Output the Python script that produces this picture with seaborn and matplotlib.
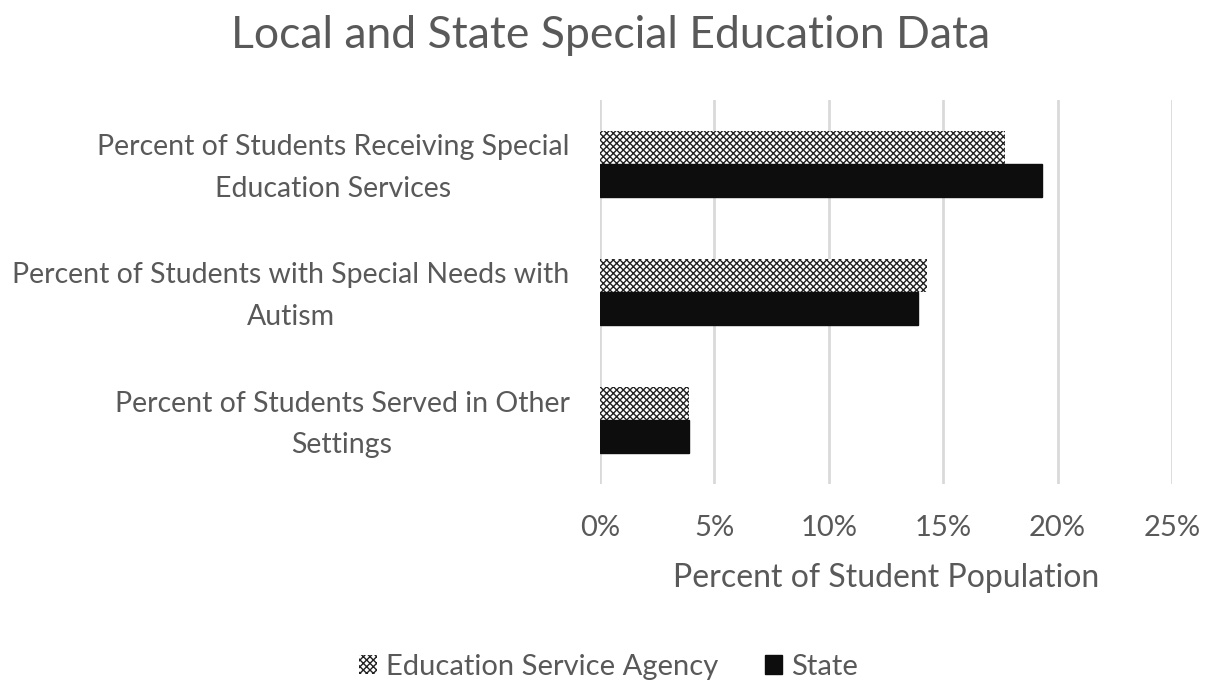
import pandas as pd
import matplotlib.pyplot as plt
import matplotlib.transforms as mtrans
import seaborn as sns
from matplotlib.patches import Patch
from matplotlib.ticker import FuncFormatter

# datos
categorias = [
    "Percent of Students Receiving Special\nEducation Services",
    "Percent of Students with Special Needs with\nAutism",
    "Percent of Students Served in Other\nSettings",
]
series = ["Education Service Agency", "State"]
esa = [17.7, 14.3, 3.9]
state = [19.3, 13.9, 3.9]

df = pd.DataFrame({
    "categoria": categorias * 2,
    "grupo": [series[0]] * 3 + [series[1]] * 3,
    "valor": esa + state,
})

sns.set_theme(style="white")
plt.rcParams["font.family"] = ["Lato", "DejaVu Sans"]
plt.rcParams["hatch.linewidth"] = 1.0
gris = "#595959"

fig = plt.figure(figsize=(12.05, 6.85), dpi=100)
ax = fig.add_axes([600 / 1205, 1 - 484 / 685, (1172 - 600) / 1205, (484 - 100) / 685])

sns.barplot(data=df, y="categoria", x="valor", hue="grupo", orient="h",
            palette=["white", "#0d0d0d"], width=0.52, ax=ax, legend=False,
            saturation=1)

# trama de la serie local
n = len(categorias)
for p in ax.patches[:n]:
    p.set_hatch("xxxxx")
    p.set_edgecolor("#222222")
    p.set_linewidth(0)
for p in ax.patches[n:]:
    p.set_edgecolor("#0d0d0d")

ax.set_xlim(0, 25)
ax.set_xticks([0, 5, 10, 15, 20, 25])
ax.xaxis.set_major_formatter(FuncFormatter(lambda v, _: f"{v:.0f}%"))
ax.grid(axis="x", color="#d9d9d9", linewidth=2)
ax.set_axisbelow(True)
for s in ax.spines.values():
    s.set_visible(False)
ax.tick_params(axis="x", colors=gris, labelsize=21, length=0, pad=22)
ax.tick_params(axis="y", colors=gris, labelsize=20.5, length=0, pad=22)
desplaza = mtrans.ScaledTranslation(0, 6 / 100, fig.dpi_scale_trans)
for t in ax.get_yticklabels():
    t.set_multialignment("center")
    t.set_linespacing(1.75)
    t.set_transform(t.get_transform() + desplaza)
ax.set_ylabel("")
ax.set_xlabel("Percent of Student Population", color=gris, fontsize=23, labelpad=16)

fig.suptitle("Local and State Special Education Data", color=gris, fontsize=32,
             x=0.507, y=0.978)

handles = [Patch(facecolor="white", edgecolor="#222222", hatch="xxxxx", linewidth=0),
           Patch(facecolor="#0d0d0d", edgecolor="#0d0d0d")]
fig.legend(handles, series, loc="center", bbox_to_anchor=(0.505, 1 - 667 / 685), ncol=2,
           frameon=False, fontsize=21, labelcolor=gris, handlelength=0.6,
           handleheight=0.6, handletextpad=0.3, columnspacing=1.6)

fig.savefig("out.png", dpi=100)
